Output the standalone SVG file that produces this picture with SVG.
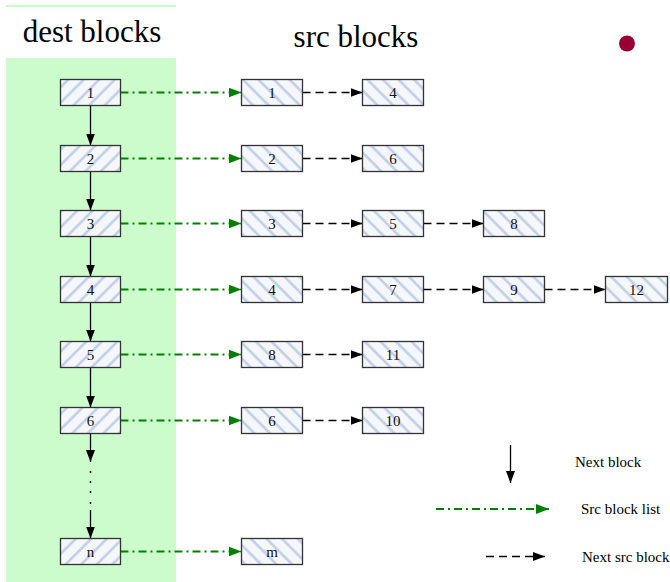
<svg xmlns="http://www.w3.org/2000/svg" width="670" height="582" viewBox="0 0 670 582" font-family="'Liberation Serif', 'DejaVu Serif', serif">
  <defs>
    <!-- hatch fills: dest blocks lean "/", src blocks lean "\" -->
    <pattern id="hatchDest" patternUnits="userSpaceOnUse" width="11" height="11" patternTransform="rotate(45)">
      <rect width="11" height="11" fill="#f5f7fb"/>
      <line x1="5.5" y1="0" x2="5.5" y2="11" stroke="#bccce7" stroke-width="2.4"/>
    </pattern>
    <pattern id="hatchSrc" patternUnits="userSpaceOnUse" width="11" height="11" patternTransform="rotate(-45)">
      <rect width="11" height="11" fill="#f5f7fb"/>
      <line x1="5.5" y1="0" x2="5.5" y2="11" stroke="#bccce7" stroke-width="2.4"/>
    </pattern>
    <marker id="arrowBlack" markerUnits="userSpaceOnUse" markerWidth="12" markerHeight="12" viewBox="0 0 12 12" refX="12" refY="6" orient="auto">
      <path d="M0,1.5 L12,6 L0,10.5 Z" fill="#000"/>
    </marker>
    <marker id="arrowGreen" markerUnits="userSpaceOnUse" markerWidth="13" markerHeight="13" viewBox="0 0 13 13" refX="13" refY="6.5" orient="auto">
      <path d="M0,1.5 L13,6.5 L0,11.5 Z" fill="#008000"/>
    </marker>
  </defs>
  <style>
    text { font-family: "Liberation Serif", "DejaVu Serif", serif; }
    .box { stroke: #333; stroke-width: 1.3; }
    .dest { fill: url(#hatchDest); }
    .src { fill: url(#hatchSrc); }
    .lbl { font-size: 15px; fill: #111; text-anchor: middle; }
    .title { font-size: 31px; fill: #000; text-anchor: middle; }
    .legend { font-size: 15px; fill: #000; }
    .next { stroke: #000; stroke-width: 1.3; fill: none; marker-end: url(#arrowBlack); }
    .list { stroke: #008000; stroke-width: 1.8; fill: none; stroke-dasharray: 8 4 2 4; marker-end: url(#arrowGreen); }
    .nextsrc { stroke: #000; stroke-width: 1.3; fill: none; stroke-dasharray: 8 5; marker-end: url(#arrowBlack); }
  </style>

  <rect width="670" height="582" fill="#fff"/>

  <!-- dest column background -->
  <rect x="6" y="58" width="170" height="524" fill="#ccfccc"/>
  <line x1="6" y1="6" x2="176" y2="6" stroke="#ccfccc" stroke-width="2"/>

  <text class="title" x="92" y="42" font-family="'Liberation Serif', serif">dest blocks</text>
  <text class="title" x="356" y="47" font-family="'Liberation Serif', serif">src blocks</text>
  <circle cx="627" cy="43.5" r="8" fill="#990033"/>

  <!-- connectors -->
  <g id="connectors">
    <!-- next block chain -->
    <line class="next" x1="90.5" y1="105.5" x2="90.5" y2="145.5"/>
    <line class="next" x1="90.5" y1="171.5" x2="90.5" y2="210.5"/>
    <line class="next" x1="90.5" y1="236.5" x2="90.5" y2="276.5"/>
    <line class="next" x1="90.5" y1="302.5" x2="90.5" y2="341.5"/>
    <line class="next" x1="90.5" y1="367.5" x2="90.5" y2="407.5"/>
    <line class="next" x1="90.5" y1="433.5" x2="90.5" y2="462"/>
    <g fill="#000">
      <circle cx="90.5" cy="472" r="0.9"/>
      <circle cx="90.5" cy="482" r="0.9"/>
      <circle cx="90.5" cy="492" r="0.9"/>
      <circle cx="90.5" cy="503" r="0.9"/>
    </g>
    <line class="next" x1="90.5" y1="510" x2="90.5" y2="538.5"/>

    <!-- src block lists -->
    <line class="list" x1="120.5" y1="92.5" x2="241.5" y2="92.5"/>
    <line class="list" x1="120.5" y1="158.5" x2="241.5" y2="158.5"/>
    <line class="list" x1="120.5" y1="223.5" x2="241.5" y2="223.5"/>
    <line class="list" x1="120.5" y1="289.5" x2="241.5" y2="289.5"/>
    <line class="list" x1="120.5" y1="354.5" x2="241.5" y2="354.5"/>
    <line class="list" x1="120.5" y1="420.5" x2="241.5" y2="420.5"/>
    <line class="list" x1="120.5" y1="551.5" x2="241.5" y2="551.5"/>

    <!-- next src block -->
    <line class="nextsrc" x1="302.5" y1="92.5" x2="362.5" y2="92.5"/>
    <line class="nextsrc" x1="302.5" y1="158.5" x2="362.5" y2="158.5"/>
    <line class="nextsrc" x1="302.5" y1="223.5" x2="362.5" y2="223.5"/>
    <line class="nextsrc" x1="423.5" y1="223.5" x2="483.5" y2="223.5"/>
    <line class="nextsrc" x1="302.5" y1="289.5" x2="362.5" y2="289.5"/>
    <line class="nextsrc" x1="423.5" y1="289.5" x2="483.5" y2="289.5"/>
    <line class="nextsrc" x1="544.5" y1="289.5" x2="605.5" y2="289.5"/>
    <line class="nextsrc" x1="302.5" y1="354.5" x2="362.5" y2="354.5"/>
    <line class="nextsrc" x1="302.5" y1="420.5" x2="362.5" y2="420.5"/>

    <!-- legend -->
    <line class="next" x1="510.5" y1="445" x2="510.5" y2="483"/>
    <line class="list" x1="436" y1="509" x2="549" y2="509"/>
    <line class="nextsrc" x1="486" y1="556.5" x2="545" y2="556.5"/>
  </g>

  <!-- dest blocks -->
  <g id="dest-1"><rect class="box dest" x="60.5" y="79.5" width="60" height="26"/><text class="lbl" x="90.5" y="97.5">1</text></g>
  <g id="dest-2"><rect class="box dest" x="60.5" y="145.5" width="60" height="26"/><text class="lbl" x="90.5" y="163.5">2</text></g>
  <g id="dest-3"><rect class="box dest" x="60.5" y="210.5" width="60" height="26"/><text class="lbl" x="90.5" y="228.5">3</text></g>
  <g id="dest-4"><rect class="box dest" x="60.5" y="276.5" width="60" height="26"/><text class="lbl" x="90.5" y="294.5">4</text></g>
  <g id="dest-5"><rect class="box dest" x="60.5" y="341.5" width="60" height="26"/><text class="lbl" x="90.5" y="359.5">5</text></g>
  <g id="dest-6"><rect class="box dest" x="60.5" y="407.5" width="60" height="26"/><text class="lbl" x="90.5" y="425.5">6</text></g>
  <g id="dest-n"><rect class="box dest" x="60.5" y="538.5" width="60" height="26"/><text class="lbl" x="90.5" y="556.5">n</text></g>

  <!-- src blocks, row 1 -->
  <g id="src-1-1"><rect class="box src" x="241.5" y="79.5" width="61" height="26"/><text class="lbl" x="272" y="97.5">1</text></g>
  <g id="src-1-4"><rect class="box src" x="362.5" y="79.5" width="61" height="26"/><text class="lbl" x="393" y="97.5">4</text></g>
  <!-- row 2 -->
  <g id="src-2-2"><rect class="box src" x="241.5" y="145.5" width="61" height="26"/><text class="lbl" x="272" y="163.5">2</text></g>
  <g id="src-2-6"><rect class="box src" x="362.5" y="145.5" width="61" height="26"/><text class="lbl" x="393" y="163.5">6</text></g>
  <!-- row 3 -->
  <g id="src-3-3"><rect class="box src" x="241.5" y="210.5" width="61" height="26"/><text class="lbl" x="272" y="228.5">3</text></g>
  <g id="src-3-5"><rect class="box src" x="362.5" y="210.5" width="61" height="26"/><text class="lbl" x="393" y="228.5">5</text></g>
  <g id="src-3-8"><rect class="box src" x="483.5" y="210.5" width="61" height="26"/><text class="lbl" x="514" y="228.5">8</text></g>
  <!-- row 4 -->
  <g id="src-4-4"><rect class="box src" x="241.5" y="276.5" width="61" height="26"/><text class="lbl" x="272" y="294.5">4</text></g>
  <g id="src-4-7"><rect class="box src" x="362.5" y="276.5" width="61" height="26"/><text class="lbl" x="393" y="294.5">7</text></g>
  <g id="src-4-9"><rect class="box src" x="483.5" y="276.5" width="61" height="26"/><text class="lbl" x="514" y="294.5">9</text></g>
  <g id="src-4-12"><rect class="box src" x="605.5" y="276.5" width="62" height="26"/><text class="lbl" x="636.5" y="294.5">12</text></g>
  <!-- row 5 -->
  <g id="src-5-8"><rect class="box src" x="241.5" y="341.5" width="61" height="26"/><text class="lbl" x="272" y="359.5">8</text></g>
  <g id="src-5-11"><rect class="box src" x="362.5" y="341.5" width="61" height="26"/><text class="lbl" x="393" y="359.5">11</text></g>
  <!-- row 6 -->
  <g id="src-6-6"><rect class="box src" x="241.5" y="407.5" width="61" height="26"/><text class="lbl" x="272" y="425.5">6</text></g>
  <g id="src-6-10"><rect class="box src" x="362.5" y="407.5" width="61" height="26"/><text class="lbl" x="393" y="425.5">10</text></g>
  <!-- row n -->
  <g id="src-n-m"><rect class="box src" x="241.5" y="538.5" width="61" height="26"/><text class="lbl" x="272" y="556.5">m</text></g>

  <!-- legend labels -->
  <text class="legend" x="575" y="467">Next block</text>
  <text class="legend" x="581" y="514">Src block list</text>
  <text class="legend" x="582" y="562">Next src block</text>
</svg>
